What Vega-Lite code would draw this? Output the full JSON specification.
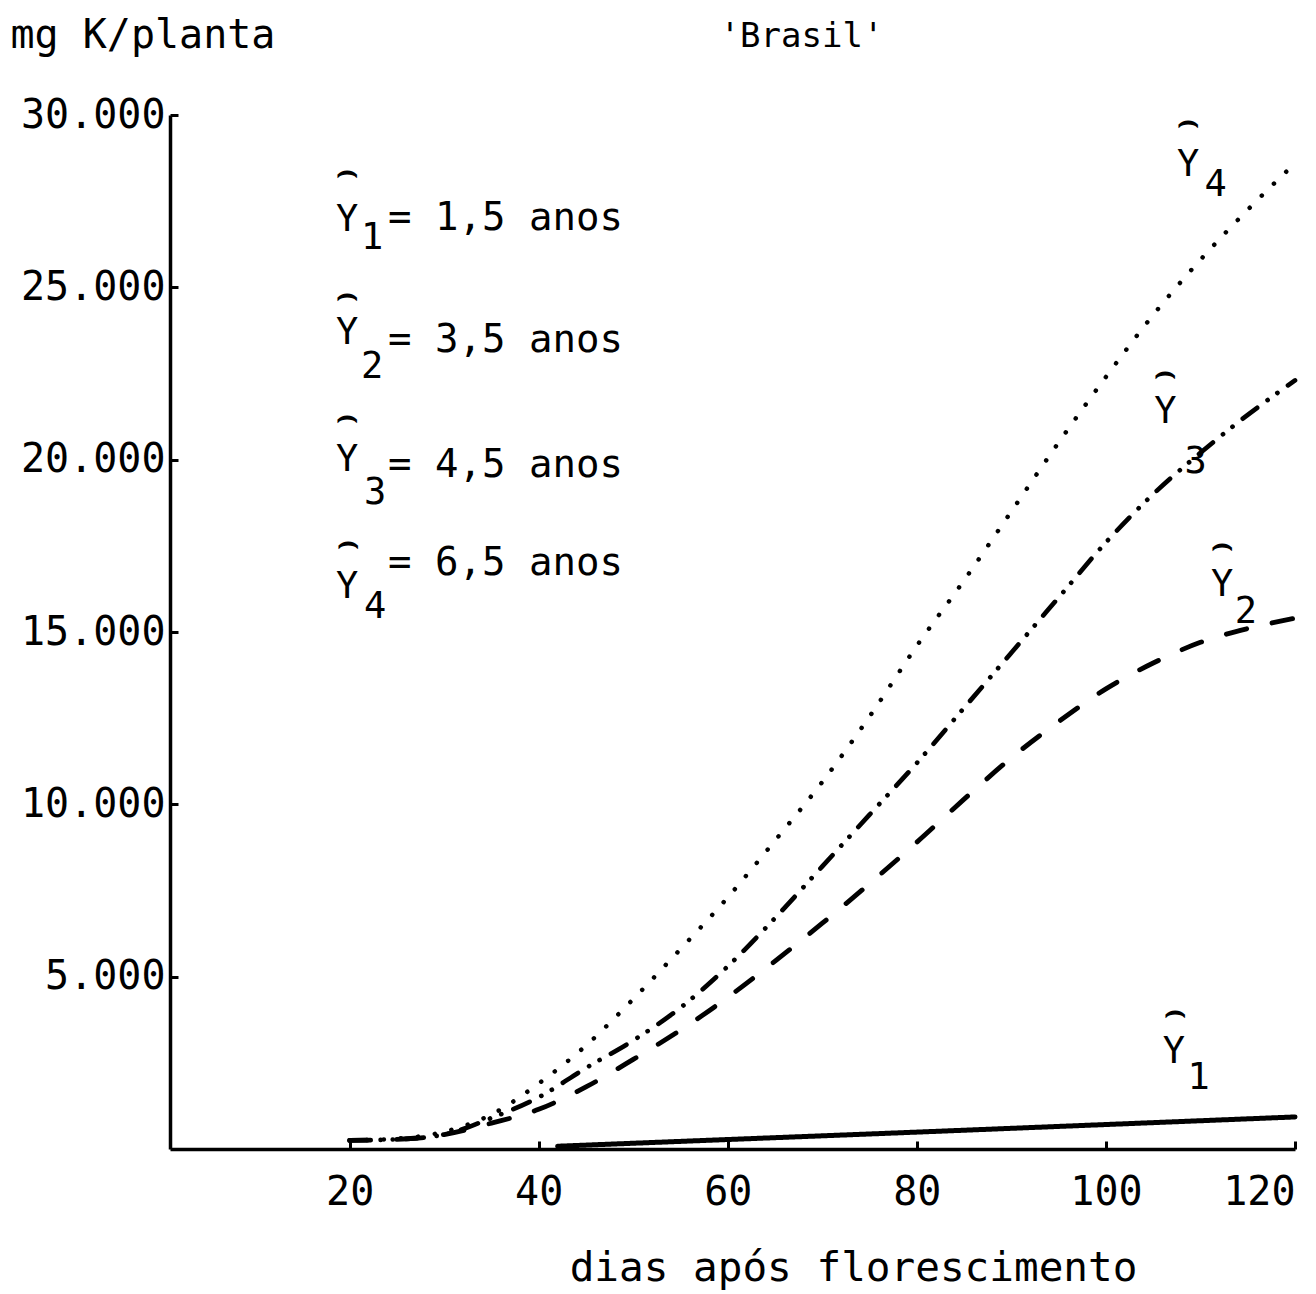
{
  "$schema": "https://vega.github.io/schema/vega-lite/v6.json",
  "width": 1125,
  "height": 1034,
  "autosize": {"type": "none"},
  "padding": {"left": 170, "top": 115, "right": 21, "bottom": 145},
  "background": "white",
  "config": {"view": {"stroke": null}, "font": "DejaVu Sans Mono"},
  "title": {
    "text": "'Brasil'",
    "font": "DejaVu Sans Mono",
    "fontSize": 34,
    "fontWeight": "normal",
    "color": "black",
    "anchor": "middle",
    "baseline": "middle",
    "offset": 0,
    "dx": 69,
    "dy": 56
  },
  "datasets": {
    "curvas": [
      {"dia": 42, "K": 80, "serie": "Y1"},
      {"dia": 60, "K": 275, "serie": "Y1"},
      {"dia": 80, "K": 490, "serie": "Y1"},
      {"dia": 100, "K": 710, "serie": "Y1"},
      {"dia": 120, "K": 930, "serie": "Y1"},

      {"dia": 20, "K": 250, "serie": "Y2"},
      {"dia": 25, "K": 280, "serie": "Y2"},
      {"dia": 30, "K": 420, "serie": "Y2"},
      {"dia": 35, "K": 750, "serie": "Y2"},
      {"dia": 40, "K": 1150, "serie": "Y2"},
      {"dia": 45, "K": 1800, "serie": "Y2"},
      {"dia": 50, "K": 2600, "serie": "Y2"},
      {"dia": 55, "K": 3450, "serie": "Y2"},
      {"dia": 60, "K": 4400, "serie": "Y2"},
      {"dia": 65, "K": 5450, "serie": "Y2"},
      {"dia": 70, "K": 6550, "serie": "Y2"},
      {"dia": 75, "K": 7700, "serie": "Y2"},
      {"dia": 80, "K": 8900, "serie": "Y2"},
      {"dia": 85, "K": 10150, "serie": "Y2"},
      {"dia": 90, "K": 11350, "serie": "Y2"},
      {"dia": 95, "K": 12400, "serie": "Y2"},
      {"dia": 100, "K": 13350, "serie": "Y2"},
      {"dia": 105, "K": 14100, "serie": "Y2"},
      {"dia": 110, "K": 14700, "serie": "Y2"},
      {"dia": 115, "K": 15100, "serie": "Y2"},
      {"dia": 120, "K": 15400, "serie": "Y2"},

      {"dia": 20, "K": 250, "serie": "Y3"},
      {"dia": 25, "K": 280, "serie": "Y3"},
      {"dia": 30, "K": 420, "serie": "Y3"},
      {"dia": 35, "K": 900, "serie": "Y3"},
      {"dia": 40, "K": 1500, "serie": "Y3"},
      {"dia": 45, "K": 2350, "serie": "Y3"},
      {"dia": 50, "K": 3150, "serie": "Y3"},
      {"dia": 55, "K": 4100, "serie": "Y3"},
      {"dia": 60, "K": 5300, "serie": "Y3"},
      {"dia": 65, "K": 6700, "serie": "Y3"},
      {"dia": 70, "K": 8200, "serie": "Y3"},
      {"dia": 75, "K": 9700, "serie": "Y3"},
      {"dia": 80, "K": 11200, "serie": "Y3"},
      {"dia": 85, "K": 12800, "serie": "Y3"},
      {"dia": 90, "K": 14400, "serie": "Y3"},
      {"dia": 95, "K": 16000, "serie": "Y3"},
      {"dia": 100, "K": 17600, "serie": "Y3"},
      {"dia": 105, "K": 19000, "serie": "Y3"},
      {"dia": 110, "K": 20200, "serie": "Y3"},
      {"dia": 115, "K": 21300, "serie": "Y3"},
      {"dia": 120, "K": 22300, "serie": "Y3"},

      {"dia": 20, "K": 250, "serie": "Y4"},
      {"dia": 25, "K": 300, "serie": "Y4"},
      {"dia": 30, "K": 500, "serie": "Y4"},
      {"dia": 35, "K": 1000, "serie": "Y4"},
      {"dia": 40, "K": 1900, "serie": "Y4"},
      {"dia": 45, "K": 3000, "serie": "Y4"},
      {"dia": 50, "K": 4350, "serie": "Y4"},
      {"dia": 55, "K": 5800, "serie": "Y4"},
      {"dia": 60, "K": 7300, "serie": "Y4"},
      {"dia": 65, "K": 8950, "serie": "Y4"},
      {"dia": 70, "K": 10650, "serie": "Y4"},
      {"dia": 75, "K": 12550, "serie": "Y4"},
      {"dia": 80, "K": 14600, "serie": "Y4"},
      {"dia": 85, "K": 16500, "serie": "Y4"},
      {"dia": 90, "K": 18500, "serie": "Y4"},
      {"dia": 95, "K": 20500, "serie": "Y4"},
      {"dia": 100, "K": 22400, "serie": "Y4"},
      {"dia": 105, "K": 24200, "serie": "Y4"},
      {"dia": 110, "K": 25800, "serie": "Y4"},
      {"dia": 115, "K": 27250, "serie": "Y4"},
      {"dia": 120, "K": 28600, "serie": "Y4"}
    ],
    "rotulos": [
      {"dia": 19.73, "K": 28340, "t": "⌢", "tipo": "chapeu"},
      {"dia": 19.73, "K": 24780, "t": "⌢", "tipo": "chapeu"},
      {"dia": 19.73, "K": 21240, "t": "⌢", "tipo": "chapeu"},
      {"dia": 19.8, "K": 17580, "t": "⌢", "tipo": "chapeu"},
      {"dia": 19.73, "K": 26950, "t": "Y", "tipo": "simbolo"},
      {"dia": 19.73, "K": 23670, "t": "Y", "tipo": "simbolo"},
      {"dia": 19.73, "K": 19990, "t": "Y", "tipo": "simbolo"},
      {"dia": 19.73, "K": 16300, "t": "Y", "tipo": "simbolo"},
      {"dia": 22.38, "K": 26430, "t": "1", "tipo": "simbolo"},
      {"dia": 22.38, "K": 22690, "t": "2", "tipo": "simbolo"},
      {"dia": 22.69, "K": 19030, "t": "3", "tipo": "simbolo"},
      {"dia": 22.69, "K": 15720, "t": "4", "tipo": "simbolo"},
      {"dia": 24.07, "K": 27010, "t": "= 1,5 anos", "tipo": "idade"},
      {"dia": 24.07, "K": 23470, "t": "= 3,5 anos", "tipo": "idade"},
      {"dia": 24.07, "K": 19840, "t": "= 4,5 anos", "tipo": "idade"},
      {"dia": 24.07, "K": 17000, "t": "= 6,5 anos", "tipo": "idade"},

      {"dia": 108.7, "K": 29790, "t": "⌢", "tipo": "chapeu"},
      {"dia": 108.7, "K": 28550, "t": "Y", "tipo": "simbolo"},
      {"dia": 111.6, "K": 27970, "t": "4", "tipo": "simbolo"},
      {"dia": 106.3, "K": 22510, "t": "⌢", "tipo": "chapeu"},
      {"dia": 106.3, "K": 21380, "t": "Y", "tipo": "simbolo"},
      {"dia": 109.5, "K": 19930, "t": "3", "tipo": "simbolo"},
      {"dia": 112.3, "K": 17520, "t": "⌢", "tipo": "chapeu"},
      {"dia": 112.3, "K": 16360, "t": "Y", "tipo": "simbolo"},
      {"dia": 114.8, "K": 15580, "t": "2", "tipo": "simbolo"},
      {"dia": 107.3, "K": 3970, "t": "⌢", "tipo": "chapeu"},
      {"dia": 107.2, "K": 2800, "t": "Y", "tipo": "simbolo"},
      {"dia": 109.8, "K": 2070, "t": "1", "tipo": "simbolo"}
    ]
  },
  "layer": [
    {
      "data": {"name": "curvas"},
      "mark": {"type": "line", "color": "black", "strokeCap": "round", "interpolate": "monotone"},
      "encoding": {
        "x": {
          "field": "dia",
          "type": "quantitative",
          "scale": {"domain": [1, 120], "nice": false, "zero": false},
          "axis": {
            "values": [20, 40, 60, 80, 100, 120],
            "grid": false,
            "domainColor": "black",
            "domainWidth": 3.5,
            "tickColor": "black",
            "tickWidth": 3,
            "tickSize": -8,
            "labelFont": "DejaVu Sans Mono",
            "labelFontSize": 40,
            "labelColor": "black",
            "labelPadding": 31,
            "labelFlush": 1,
            "labelOverlap": false,
            "title": "dias após florescimento",
            "titleFont": "DejaVu Sans Mono",
            "titleFontSize": 41,
            "titleFontWeight": "normal",
            "titleColor": "black",
            "titleAlign": "center",
            "titleBaseline": "middle",
            "titleX": 683,
            "titleY": 119
          }
        },
        "y": {
          "field": "K",
          "type": "quantitative",
          "scale": {"domain": [0, 30000], "nice": false},
          "axis": {
            "values": [5000, 10000, 15000, 20000, 25000, 30000],
            "labelExpr": "replace(format(datum.value, ','), ',', '.')",
            "grid": false,
            "domainColor": "black",
            "domainWidth": 3.5,
            "tickColor": "black",
            "tickWidth": 3,
            "tickSize": -8,
            "labelFont": "DejaVu Sans Mono",
            "labelFontSize": 40,
            "labelColor": "black",
            "labelPadding": 13,
            "labelFlush": false,
            "labelOverlap": false,
            "title": "mg K/planta",
            "titleFont": "DejaVu Sans Mono",
            "titleFontSize": 40,
            "titleFontWeight": "normal",
            "titleColor": "black",
            "titleAngle": 0,
            "titleAlign": "left",
            "titleBaseline": "middle",
            "titleX": -160,
            "titleY": -80
          }
        },
        "detail": {"field": "serie"},
        "strokeDash": {
          "field": "serie",
          "type": "nominal",
          "scale": {
            "domain": ["Y1", "Y2", "Y3", "Y4"],
            "range": [[1, 0], [21, 26], [18, 13, 0.1, 12, 0.1, 13], [0.1, 17]]
          },
          "legend": null
        },
        "strokeWidth": {
          "field": "serie",
          "type": "nominal",
          "scale": {"domain": ["Y1", "Y2", "Y3", "Y4"], "range": [5, 4.5, 4.5, 5.5]},
          "legend": null
        }
      }
    },
    {
      "data": {"name": "rotulos"},
      "transform": [{"filter": "datum.tipo === 'chapeu'"}],
      "mark": {"type": "text", "font": "DejaVu Sans", "fontSize": 34, "fontWeight": "bold", "color": "black", "align": "center", "baseline": "middle"},
      "encoding": {
        "x": {"field": "dia", "type": "quantitative"},
        "y": {"field": "K", "type": "quantitative"},
        "text": {"field": "t"}
      }
    },
    {
      "data": {"name": "rotulos"},
      "transform": [{"filter": "datum.tipo === 'simbolo'"}],
      "mark": {"type": "text", "font": "DejaVu Sans Mono", "fontSize": 37, "color": "black", "align": "center", "baseline": "middle"},
      "encoding": {
        "x": {"field": "dia", "type": "quantitative"},
        "y": {"field": "K", "type": "quantitative"},
        "text": {"field": "t"}
      }
    },
    {
      "data": {"name": "rotulos"},
      "transform": [{"filter": "datum.tipo === 'idade'"}],
      "mark": {"type": "text", "font": "DejaVu Sans Mono", "fontSize": 39, "color": "black", "align": "left", "baseline": "middle"},
      "encoding": {
        "x": {"field": "dia", "type": "quantitative"},
        "y": {"field": "K", "type": "quantitative"},
        "text": {"field": "t"}
      }
    }
  ]
}
